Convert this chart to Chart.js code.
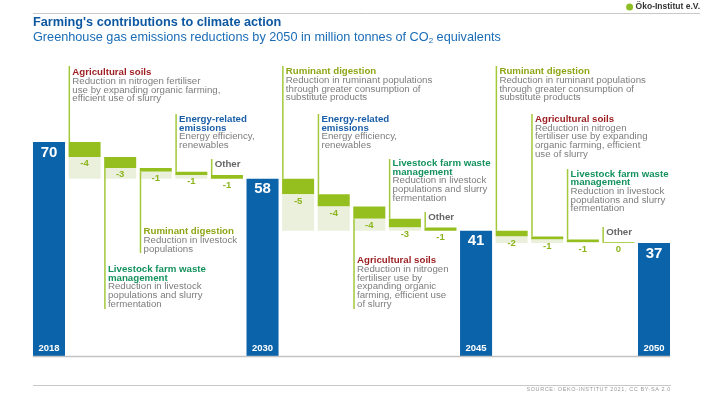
<!DOCTYPE html>
<html>
<head>
<meta charset="utf-8">
<script src="https://cdn.jsdelivr.net/npm/chart.js@4.4.1/dist/chart.umd.min.js"></script>
<style>
html,body{margin:0;padding:0;background:#fff;}
#wrap{position:relative;width:704px;height:396px;}
canvas{display:block;}
</style>
</head>
<body>
<div id="wrap"><canvas id="c" width="704" height="396"></canvas></div>
<script>
// ---------- DATA ----------
const totalYears = ['2018', '2030', '2045', '2050'];
const totalValues = [70, 58, 41, 37];
const stepNames = [
  ['Agricultural soils', 'Livestock farm waste management', 'Ruminant digestion', 'Energy-related emissions', 'Other'],
  ['Ruminant digestion', 'Energy-related emissions', 'Agricultural soils', 'Livestock farm waste management', 'Other'],
  ['Ruminant digestion', 'Agricultural soils', 'Livestock farm waste management', 'Other']
];
const stepValues = [
  [-4.9, -3.6, -1.2, -1.1, -1.2],
  [-5.1, -4.0, -4.0, -2.9, -1.0],
  [-1.9, -1.0, -0.9, -0.2]
];
const stepLabels = [
  ['-4', '-3', '-1', '-1', '-1'],
  ['-5', '-4', '-4', '-3', '-1'],
  ['-2', '-1', '-1', '0']
];
// annotation texts (per step, same order as stepNames)
const noteTitles = [
  [['Agricultural soils'], ['Livestock farm waste', 'management'], ['Ruminant digestion'], ['Energy-related', 'emissions'], ['Other']],
  [['Ruminant digestion'], ['Energy-related', 'emissions'], ['Agricultural soils'], ['Livestock farm waste', 'management'], ['Other']],
  [['Ruminant digestion'], ['Agricultural soils'], ['Livestock farm waste', 'management'], ['Other']]
];
const noteDescs = [
  [['Reduction in nitrogen fertiliser', 'use by expanding organic farming,', 'efficient use of slurry'],
   ['Reduction in livestock', 'populations and slurry', 'fermentation'],
   ['Reduction in livestock', 'populations'],
   ['Energy efficiency,', 'renewables'],
   []],
  [['Reduction in ruminant populations', 'through greater consumption of', 'substitute products'],
   ['Energy efficiency,', 'renewables'],
   ['Reduction in nitrogen', 'fertiliser use by', 'expanding organic', 'farming, efficient use', 'of slurry'],
   ['Reduction in livestock', 'populations and slurry', 'fermentation'],
   []],
  [['Reduction in ruminant populations', 'through greater consumption of', 'substitute products'],
   ['Reduction in nitrogen', 'fertiliser use by expanding', 'organic farming, efficient', 'use of slurry'],
   ['Reduction in livestock', 'populations and slurry', 'fermentation'],
   []]
];
const titleText = "Farming's contributions to climate action";
const subtitleText = 'Greenhouse gas emissions reductions by 2050 in million tonnes of CO';
const subtitleSub = '2';
const subtitleEnd = ' equivalents';
const sourceText = 'SOURCE: OEKO-INSTITUT 2021, CC BY-SA 2.0';
const logoText = 'Öko-Institut e.V.';

// ---------- LAYOUT (positions / styles) ----------
// per step: direction of leader line, y of first title line, y where line ends
const noteLayout = [
  [{dir:'up', y:72.7, end:66}, {dir:'down', y:269.3, end:309}, {dir:'down', y:231.7, end:253}, {dir:'up', y:119.3, end:114}, {dir:'up', y:164, end:159}],
  [{dir:'up', y:71.7, end:66}, {dir:'up', y:119.3, end:114}, {dir:'down', y:260.7, end:309}, {dir:'up', y:163.3, end:159}, {dir:'up', y:217.3, end:212}],
  [{dir:'up', y:71.7, end:66}, {dir:'up', y:119.3, end:114}, {dir:'up', y:174, end:169}, {dir:'up', y:232.3, end:227}]
];
const titleColors = {
  'Agricultural soils': '#9c1c1f',
  'Energy-related emissions': '#1a5ea8',
  'Ruminant digestion': '#8ea616',
  'Livestock farm waste management': '#14925d',
  'Other': '#666666'
};
const BLUE = '#0b63a9', GREEN = '#95bf1f', LIGHT = '#ebf0dc', LINE = '#a3c83a';
const FONT = '"Liberation Sans", Arial, sans-serif';

// ---------- BUILD ----------
const categories = [];
const lightData = [], greenData = [], blueData = [];
const stepInfo = []; // meta for drawing
for (let s = 0; s < stepValues.length; s++) {
  categories.push(totalYears[s]);
  blueData.push([0, totalValues[s]]);
  lightData.push(null); greenData.push(null);
  let level = totalValues[s];
  const end = totalValues[s + 1];
  for (let k = 0; k < stepValues[s].length; k++) {
    const top = level, bottom = level + stepValues[s][k];
    categories.push(stepNames[s][k]);
    blueData.push(null);
    greenData.push([bottom, top]);
    lightData.push(bottom - end > 0.01 ? [end, bottom] : null);
    stepInfo.push({idx: categories.length - 1, s, k, top, bottom});
    level = bottom;
  }
}
categories.push(totalYears[totalYears.length - 1]);
blueData.push([0, totalValues[totalValues.length - 1]]);
lightData.push(null); greenData.push(null);

const overlay = {
  id: 'overlay',
  afterDatasetsDraw(chart) {
    const ctx = chart.ctx, xs = chart.scales.x, ys = chart.scales.y;
    const half = (xs.getPixelForValue(1) - xs.getPixelForValue(0)) * 0.9 / 2;
    ctx.save();
    // baseline
    ctx.strokeStyle = '#c2c2c2'; ctx.lineWidth = 1.5;
    ctx.beginPath();
    ctx.moveTo(xs.getPixelForValue(0) - half, ys.getPixelForValue(0) + 0.5);
    ctx.lineTo(xs.getPixelForValue(categories.length - 1) + half, ys.getPixelForValue(0) + 0.5);
    ctx.stroke();
    // totals labels
    ctx.textAlign = 'center'; ctx.textBaseline = 'middle'; ctx.fillStyle = '#fff';
    for (let t = 0; t < totalYears.length; t++) {
      const i = categories.indexOf(totalYears[t]);
      const x = xs.getPixelForValue(i);
      ctx.font = 'bold 15px ' + FONT;
      ctx.fillText(String(totalValues[t]), x, ys.getPixelForValue(totalValues[t]) + 10.5);
      ctx.font = 'bold 9.5px ' + FONT;
      ctx.fillText(totalYears[t], x, ys.getPixelForValue(0) - 7.5);
    }
    // step labels + notes
    for (const st of stepInfo) {
      const x = xs.getPixelForValue(st.idx);
      const yBot = ys.getPixelForValue(st.bottom), yTop = ys.getPixelForValue(st.top);
      ctx.font = 'bold 9.5px ' + FONT; ctx.fillStyle = '#8cb41c'; ctx.textAlign = 'center';
      ctx.fillText(stepLabels[st.s][st.k], x, yBot + 6.8);
      const lay = noteLayout[st.s][st.k];
      const lx = x - half + 0.75;
      ctx.strokeStyle = LINE; ctx.lineWidth = 1.5;
      ctx.beginPath();
      if (lay.dir === 'up') { ctx.moveTo(lx, yTop); ctx.lineTo(lx, lay.end); }
      else { ctx.moveTo(lx, yBot); ctx.lineTo(lx, lay.end); }
      ctx.stroke();
      ctx.textAlign = 'left';
      let y = lay.y;
      const name = stepNames[st.s][st.k];
      ctx.font = 'bold 9.7px ' + FONT; ctx.fillStyle = titleColors[name];
      for (const line of noteTitles[st.s][st.k]) { ctx.fillText(line, lx + 3, y); y += 8.7; }
      ctx.font = '9.7px ' + FONT; ctx.fillStyle = '#7d7d7d';
      for (const line of noteDescs[st.s][st.k]) { ctx.fillText(line, lx + 3, y); y += 8.7; }
    }
    ctx.restore();
  },
  afterDraw(chart) {
    const ctx = chart.ctx;
    ctx.save();
    ctx.textBaseline = 'middle';
    // header
    ctx.fillStyle = '#0d58a1'; ctx.textAlign = 'left';
    ctx.font = 'bold 12.7px ' + FONT;
    ctx.fillText(titleText, 33, 22);
    ctx.fillStyle = '#1a6cb6';
    ctx.font = '12.7px ' + FONT;
    ctx.fillText(subtitleText, 33, 37.5);
    let w = ctx.measureText(subtitleText).width;
    ctx.font = '8px ' + FONT;
    ctx.fillText(subtitleSub, 33 + w, 41);
    const w2 = ctx.measureText(subtitleSub).width;
    ctx.font = '12.7px ' + FONT;
    ctx.fillText(subtitleEnd, 33 + w + w2, 37.5);
    // top rule
    ctx.strokeStyle = '#c8c8c8'; ctx.lineWidth = 1;
    ctx.beginPath(); ctx.moveTo(33, 13.5); ctx.lineTo(700, 13.5); ctx.stroke();
    // logo
    ctx.font = 'bold 8.5px ' + FONT; ctx.fillStyle = '#333'; ctx.textAlign = 'right';
    ctx.fillText(logoText, 700, 7);
    const lw = ctx.measureText(logoText).width;
    ctx.fillStyle = '#8cbf26';
    ctx.beginPath(); ctx.arc(700 - lw - 6, 7, 3.5, 0, Math.PI * 2); ctx.fill();
    // bottom rule + source
    ctx.strokeStyle = '#c8c8c8';
    ctx.beginPath(); ctx.moveTo(33, 385.5); ctx.lineTo(671, 385.5); ctx.stroke();
    ctx.font = '5.5px ' + FONT; ctx.fillStyle = '#9a9a9a'; ctx.textAlign = 'right';
    try { ctx.letterSpacing = '0.6px'; } catch (e) {}
    ctx.fillText(sourceText, 671, 389.5);
    ctx.restore();
  }
};

new Chart(document.getElementById('c'), {
  type: 'bar',
  data: {
    labels: categories,
    datasets: [
      {label: 'light', data: lightData, backgroundColor: LIGHT},
      {label: 'reduction', data: greenData, backgroundColor: GREEN},
      {label: 'total', data: blueData, backgroundColor: BLUE}
    ]
  },
  options: {
    responsive: false,
    animation: false,
    devicePixelRatio: 1,
    layout: {padding: {left: 31.2, right: 32.2, top: 50.3, bottom: 40}},
    plugins: {legend: {display: false}, tooltip: {enabled: false}, title: {display: false}},
    datasets: {bar: {barPercentage: 0.9, categoryPercentage: 1, grouped: false, borderWidth: 0, borderSkipped: false}},
    scales: {
      x: {display: false},
      y: {display: false, min: 0, max: 100}
    }
  },
  plugins: [overlay]
});
</script>
</body>
</html>
